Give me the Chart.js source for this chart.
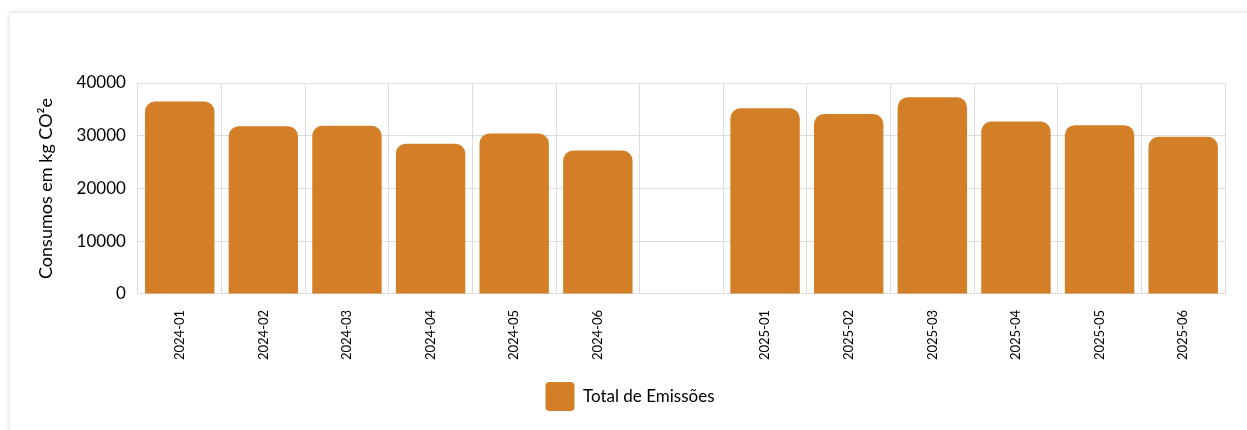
<!DOCTYPE html>
<html>
<head>
<meta charset="utf-8">
<script src="https://cdn.jsdelivr.net/npm/chart.js@4.4.1/dist/chart.umd.min.js"></script>
<style>
    html, body { margin: 0; padding: 0; background: #ffffff; overflow: hidden; }
    .card {
        position: absolute; left: 10px; top: 13px; width: 1300px; height: 480px;
        background: #fff; box-shadow: 0 0 6px rgba(0,0,0,0.18);
    }
    .chart-box { position: absolute; left: 0; top: 0; width: 1247px; height: 430px; }
</style>
</head>
<body>
<div class="card"></div>
<div class="chart-box"><canvas id="chart"></canvas></div>
<script>
// data
var months = ['2024-01', '2024-02', '2024-03', '2024-04', '2024-05', '2024-06', '',
              '2025-01', '2025-02', '2025-03', '2025-04', '2025-05', '2025-06'];
var emissions = [36500, 31800, 31900, 28500, 30400, 27200, null,
                 35200, 34100, 37300, 32700, 32000, 29800];
var yTicks = [0, 10000, 20000, 30000, 40000];
var seriesName = 'Total de Emissões';
var yTitle = 'Consumos em kg CO²e';

var orange = '#d37f27';
var gridColor = '#dddddd';
var fontFamily = 'Lato, "Open Sans", sans-serif';

var ctx = document.getElementById('chart').getContext('2d');

var chart = new Chart(ctx, {
    type: 'bar',
    data: {
        labels: months,
        datasets: [{
            label: seriesName,
            data: emissions,
            backgroundColor: orange,
            borderRadius: {topLeft: 10, topRight: 10},
            borderSkipped: 'bottom',
            categoryPercentage: 1.0,
            barPercentage: 0.83,
        }],
    },
    options: {
        responsive: true,
        maintainAspectRatio: false,
        animation: false,
        layout: {
            padding: {left: 35, right: 22, top: 83, bottom: 9},
        },
        plugins: {
            legend: {
                position: 'bottom',
                labels: {
                    color: '#000',
                    font: {family: fontFamily, size: 17},
                    boxWidth: 29,
                    boxHeight: 29,
                    useBorderRadius: true,
                    borderRadius: 4,
                    padding: 6,
                },
            },
            tooltip: {enabled: false},
        },
        scales: {
            x: {
                grid: {color: gridColor, offset: true, drawTicks: false},
                border: {color: gridColor},
                ticks: {
                    color: '#000',
                    font: {family: fontFamily, size: 13},
                    maxRotation: 90,
                    minRotation: 90,
                    autoSkip: false,
                    padding: 16,
                },
            },
            y: {
                min: 0,
                max: 40000,
                afterBuildTicks: function (axis) {
                    axis.ticks = yTicks.map(function (v) { return {value: v}; });
                },
                grid: {color: gridColor, drawTicks: false},
                border: {color: gridColor},
                ticks: {
                    color: '#000',
                    font: {family: fontFamily, size: 17},
                    padding: 12,
                    callback: function (v) { return String(v); },
                },
                title: {
                    display: true,
                    text: yTitle,
                    color: '#000',
                    font: {family: fontFamily, size: 18},
                    padding: {top: 0, bottom: 8},
                },
            },
        },
    },
});
</script>
</body>
</html>
